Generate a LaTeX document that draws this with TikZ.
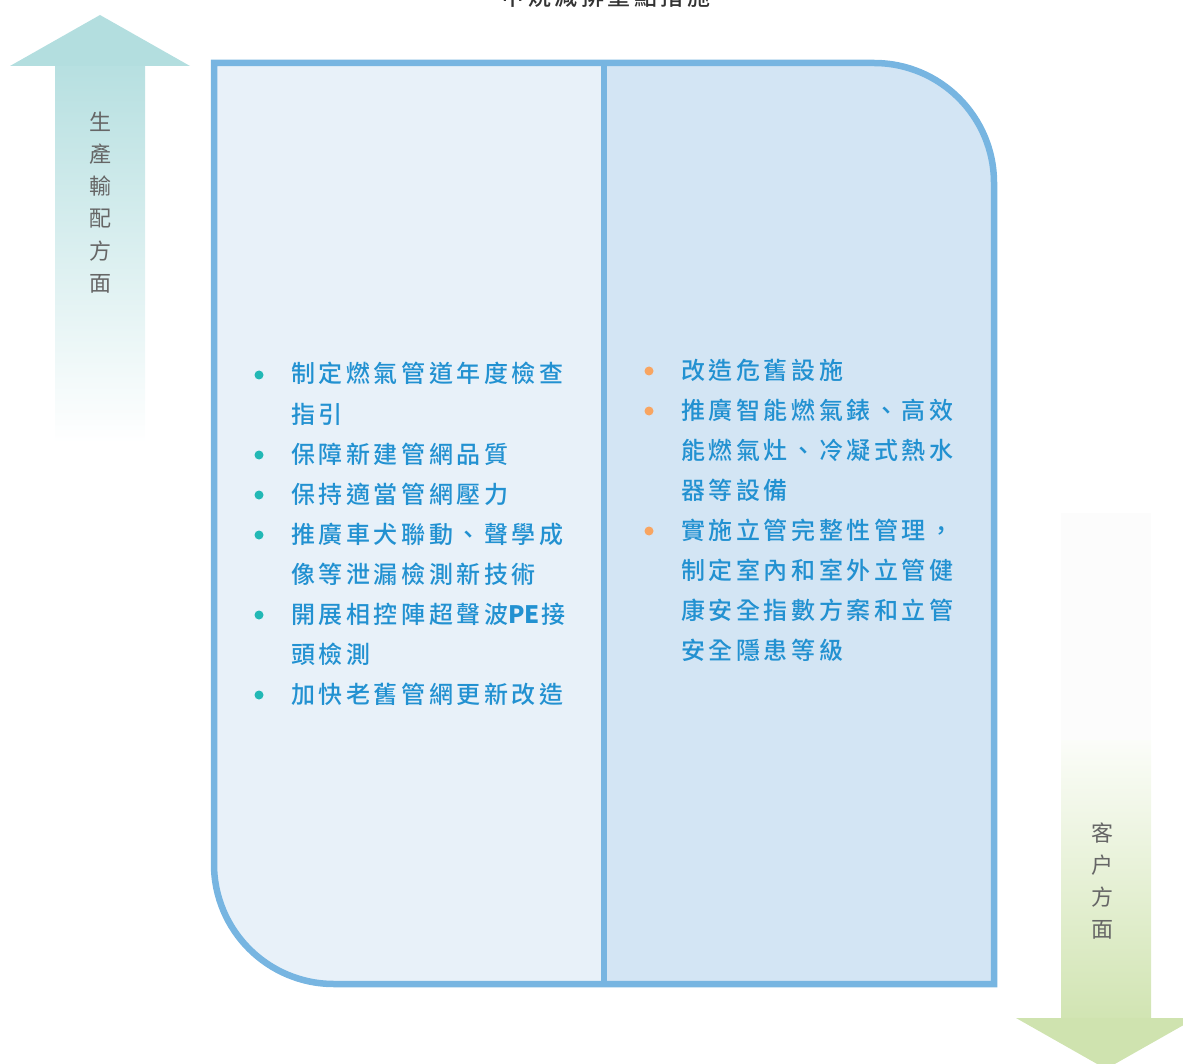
\documentclass[tikz,border=0pt]{standalone}
\usepackage{fontspec}
\newfontfamily\cjkb[LetterSpace=15]{Noto Sans CJK TC Medium}
\newfontfamily\cjkr{Noto Sans CJK TC}
\definecolor{frameblue}{HTML}{77B5E1}
\definecolor{leftfill}{HTML}{E8F1F9}
\definecolor{rightfill}{HTML}{D3E5F4}
\definecolor{itemblue}{HTML}{2291D1}
\definecolor{dotteal}{HTML}{22B8B5}
\definecolor{dotorange}{HTML}{F8A561}
\definecolor{labelgray}{HTML}{666666}
\definecolor{tealhead}{HTML}{B3DEDF}
\definecolor{greenhead}{HTML}{CFE3AF}
\newcommand{\latinpart}[1]{{\addfontfeature{LetterSpace=0}\bfseries #1}\kern1.5pt}
\tikzset{
  itemtext/.style={anchor=base west, inner sep=0pt, text=itemblue, font=\cjkb\fontsize{24}{40}\selectfont},
  sidelabel/.style={align=center, inner sep=0pt, text=labelgray, font=\cjkr\fontsize{22}{32.2}\selectfont},
  titletext/.style={anchor=base, inner sep=0pt, text=black!80, font=\cjkb\fontsize{23}{28}\selectfont},
}
\begin{document}
\begin{tikzpicture}[x=1pt,y=-1pt]
\useasboundingbox (0,0) rectangle (1183,1064);
% left arrow (up)
\shade[top color=tealhead!95!white, bottom color=white] (55,66) rectangle (145,443);
\fill[tealhead] (10,66) -- (100,15) -- (190,66) -- cycle;
\node[sidelabel] (prod) at (100,202.5) {生\\產\\輸\\配\\方\\面};
% right arrow (down)
\fill[black!1] (1061,513) rectangle (1151,740);
\shade[top color=greenhead!8!white, bottom color=greenhead!95!white] (1061,740) rectangle (1151,1018);
\fill[greenhead] (1016,1018) -- (1196,1018) -- (1106,1069) -- cycle;
\node[sidelabel] (cust) at (1102,881) {客\\户\\方\\面};
% title (cut off at top, as in the reference)
\node[titletext] (title) at (606,6) {甲烷減排重點措施};
% main panel
\fill[rightfill] (214,63) -- (874,63) arc[start angle=-90,end angle=0,radius=120] -- (994,984) -- (334,984) arc[start angle=90,end angle=180,radius=120] -- cycle;
\fill[leftfill] (214,63) -- (604,63) -- (604,984) -- (334,984) arc[start angle=90,end angle=180,radius=120] -- cycle;
\draw[frameblue, line width=6.5pt] (214,63) -- (874,63) arc[start angle=-90,end angle=0,radius=120] -- (994,984) -- (334,984) arc[start angle=90,end angle=180,radius=120] -- cycle;
\draw[frameblue, line width=6pt] (604,63) -- (604,984);
% left items
\foreach \ty/\tx [count=\i] in {374/制定燃氣管道年度檢查, 414/指引, 454/保障新建管網品質, 494/保持適當管網壓力, 534/推廣車犬聯動、聲學成, 574/像等泄漏檢測新技術, 614/開展相控陣超聲波\latinpart{PE}接, 654/頭檢測, 694/加快老舊管網更新改造}
  \node[itemtext] (L\i) at (291,\ty+9) {\tx};
\foreach \ty [count=\i] in {375,455,495,535,615,695}
  \fill[dotteal] (259,\ty) circle[radius=4.5];
% right items
\foreach \ty/\tx [count=\i] in {370/改造危舊設施, 410/推廣智能燃氣錶、高效, 450/能燃氣灶、冷凝式熱水, 490/器等設備, 530/實施立管完整性管理，, 570/制定室內和室外立管健, 610/康安全指數方案和立管, 650/安全隱患等級}
  \node[itemtext] (R\i) at (681,\ty+9) {\tx};
\foreach \ty [count=\i] in {371,411,531}
  \fill[dotorange] (649,\ty) circle[radius=4.5];
\end{tikzpicture}
\end{document}
